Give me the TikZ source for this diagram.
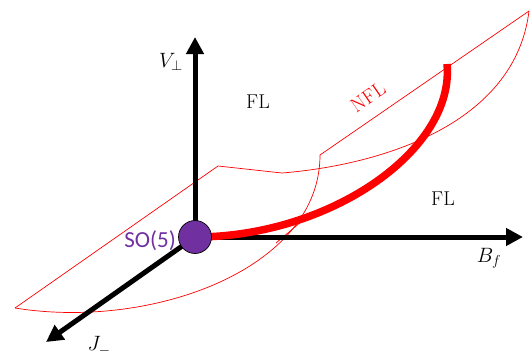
\documentclass[tikz,border=0pt]{standalone}
\usepackage{amsmath,amssymb}
\usepackage{fontspec}
\newfontfamily\sofont{Carlito}
\usetikzlibrary{arrows.meta,calc,positioning}
\definecolor{nflred}{HTML}{FF0000}
\definecolor{sopurple}{HTML}{7030A0}

\begin{document}
\begin{tikzpicture}[
    x=1pt, y=-1pt,
    axis/.style={line width=5pt, -{Triangle[length=17pt, width=17pt]}},
    sheet/.style={draw=nflred, line width=0.7pt},
    nflcurve/.style={draw=nflred, line width=7.5pt},
    lbl/.style={font=\fontsize{20}{24}\selectfont, inner sep=0pt},
]
\useasboundingbox (0,0) rectangle (532,356);

% Corners of the sheet
\coordinate (c1) at (15,308);
\coordinate (c2) at (218,166);
\coordinate (c3) at (282,173);
\coordinate (c4) at (529,11);
\coordinate (c5) at (320,155);
\coordinate (s1) at (276,243);
\coordinate (s2) at (302,221);

% Sheet
\draw[sheet] (c1) -- (c2) -- (c3) .. controls (380,165) and (515,125) .. (c4);
\draw[sheet] (c4) -- (c5);
\draw[sheet] (c5) .. controls (320,270) and (150,330) .. (c1);
\draw[sheet] (s1) -- (s2);

% Axes
\coordinate (O) at (195,237);
\coordinate (vtip) at (195,37);
\coordinate (btip) at (523,237);
\coordinate (jtip) at (46,342);
\draw[axis] (O) -- (vtip);
\draw[axis] (O) -- (btip);
\draw[axis] (O) -- (jtip);

% Line of the NFL phase
\coordinate (nfltop) at (447,64);
\draw[nflcurve] (O) .. controls (330,237) and (455,150) .. (nfltop);

% SO(5) point
\node[circle, fill=sopurple, draw=black, line width=0.7pt,
      minimum size=33pt, inner sep=0pt] (so5) at (O) {};
\node[font=\sofont\fontsize{23}{26}\selectfont, text=sopurple,
      inner sep=0pt, anchor=east] (so5lbl) at (176,241) {SO(5)};

% Labels
\node[lbl] (vlbl) at (171,62) {$V_{\perp}$};
\node[lbl] (jlbl) at (99,346) {$J_{-}$};
\node[lbl] (blbl) at (489,258) {$B_{f}$};
\node[lbl] (fl1) at (258,102) {FL};
\node[lbl] (fl2) at (443,199) {FL};
\node[lbl, text=nflred, rotate=34.5] (nfl) at (368,97) {NFL};
\end{tikzpicture}
\end{document}
